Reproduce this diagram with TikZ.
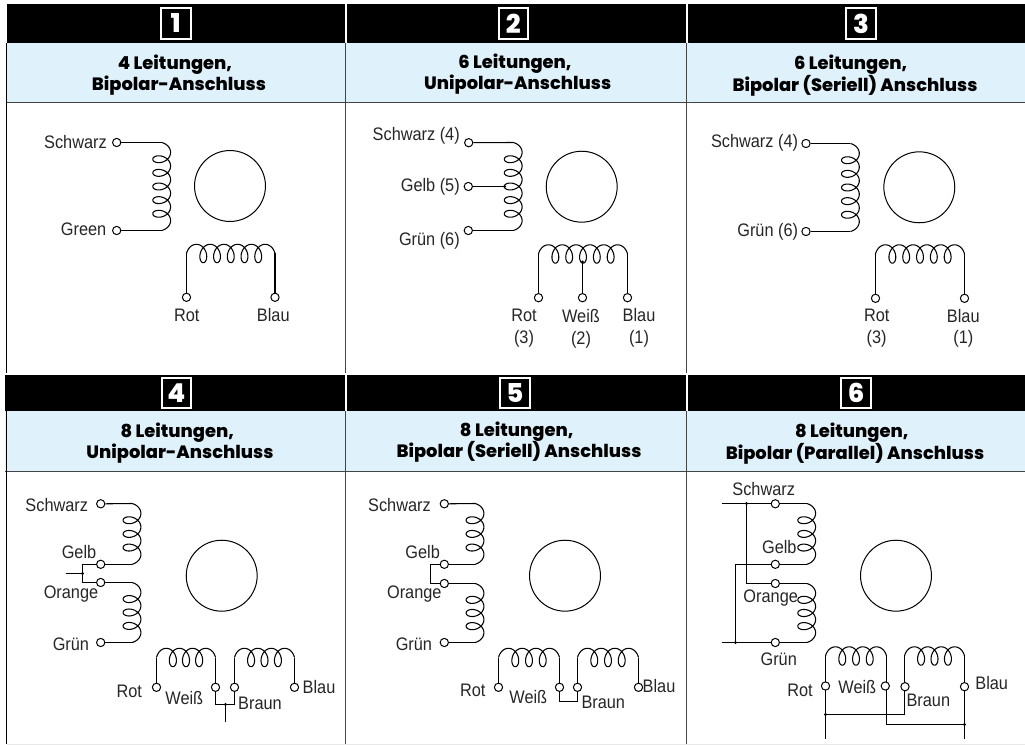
\documentclass[tikz,border=0pt]{standalone}
\usepackage{fontspec}
\setmainfont{Liberation Sans}
\newfontfamily\headfont[UprightFont=* ExtraBold,BoldFont=* ExtraBold]{Poppins}
\definecolor{headblue}{HTML}{DFF2FB}
\definecolor{rulegrey}{HTML}{444444}
\newcommand{\coilV}[5]{% name, xc, y0, L, n : axis down, bulge right
  \pgfmathsetmacro{\cp}{(#4-13)/(#5+.5)}
  \draw[wire] plot[domain=-90:{360*#5+90},samples={36*#5+10},smooth,variable=\t]
    ({#2+8.9*cos(\t)},{#3+(\t+90)/360*\cp+6.5*(sin(\t)+1)});
  \coordinate (#1a) at (#2,#3);
  \coordinate (#1b) at (#2,#3+#4);
}
\newcommand{\coilH}[5]{% name, x0, yc, L, n : axis right, bulge up
  \pgfmathsetmacro{\cp}{(#4-13)/(#5+.5)}
  \draw[wire] plot[domain=-90:{360*#5+90},samples={36*#5+10},smooth,variable=\t]
    ({#2+(\t+90)/360*\cp+6.5*(sin(\t)+1)},{#3-9.2*cos(\t)});
  \coordinate (#1a) at (#2,#3);
  \coordinate (#1b) at (#2+#4,#3);
}
\newcommand{\panelhead}[8]{% left, right, barTop, barBottom, ruleY, digit, boxcx
  \fill[black] (#1,#3) rectangle (#2,#4);
  \fill[headblue] (#1,#4) rectangle (#2,#5);
  \draw[rulegrey,line width=.75pt] (#1,#5) -- (#2,#5);
  \node[numbox] (#8) at (#7,{(#3+#4)/2}) {#6};
}
\tikzset{
  wire/.style={line width=.8pt,black},
  term/.style={circle,draw=black,fill=white,line width=.75pt,minimum size=6.2pt,inner sep=0pt},
  lab/.style={font=\fontsize{13.6}{15}\selectfont,inner sep=0pt,xscale=.9,transform shape,text=black!85},
  labr/.style={lab,anchor=east},
  head/.style={font=\headfont\fontsize{13.4}{15}\selectfont,inner sep=0pt,text=black,yshift=-1.2pt},
  numbox/.style={draw=white,line width=1.5pt,minimum width=22.2pt,minimum height=22.8pt,inner sep=0pt,
     text=white,font=\headfont\fontsize{19.5}{20}\selectfont},
  rotor/.style={circle,draw=black,line width=.75pt,minimum size=53.2pt,inner sep=0pt},
  dotj/.style={circle,fill=black,minimum size=2.6pt,inner sep=0pt},
  vline/.style={draw=rulegrey,line width=1pt},
  lline/.style={draw=black,line width=1pt},
}
\begin{document}
\begin{tikzpicture}[x=.75pt,y=-.75pt]
\useasboundingbox (0,0) rectangle (1025,745);
\fill[white] (0,0) rectangle (1025,745);
% ---------- frame ----------
\fill[black!9] (7,743.7) rectangle (1025,745);
\panelhead{6.5}{345}{4}{43}{103}{1}{175.7}{n1}
\panelhead{347.3}{686}{4}{43}{103}{2}{513.3}{n2}
\panelhead{688.3}{1025}{4}{43}{103}{3}{861}{n3}
\panelhead{5}{345}{375}{411}{471}{4}{176.3}{n4}
\panelhead{347.3}{686}{375}{411}{471}{5}{515}{n5}
\panelhead{688.3}{1025}{375}{411}{471}{6}{856}{n6}
\fill[headblue] (345,43) rectangle (348,103) (686,43) rectangle (689,103)
                (345,411) rectangle (348,471) (686,411) rectangle (689,471);
\draw[rulegrey,line width=.75pt] (345,103) -- (348,103) (686,103) -- (689,103)
                (345,471) -- (348,471) (686,471) -- (689,471);
\draw[lline] (6.5,43) -- (6.5,373);
\draw[lline] (6.5,411) -- (6.5,743.7);
\draw[vline] (345.8,43) -- (345.8,372.7) (345.8,411) -- (345.8,743.7);
\draw[vline] (686.8,43) -- (686.8,372.7) (686.8,411) -- (686.8,743.7);
% ---------- titles ----------
\node[head] (t1a) at (175,63.3) {4 Leitungen,};
\node[head] (t1b) at (179,84) {Bipolar-Anschluss};
\node[head] (t2a) at (515,62.3) {6 Leitungen,};
\node[head] (t2b) at (517.7,83.3) {Unipolar-Anschluss};
\node[head] (t3a) at (850.7,63.3) {6 Leitungen,};
\node[head] (t3b) at (855,84) {Bipolar (Seriell) Anschluss};
\node[head] (t4a) at (177.3,431) {8 Leitungen,};
\node[head] (t4b) at (180,452.3) {Unipolar-Anschluss};
\node[head] (t5a) at (516.7,430) {8 Leitungen,};
\node[head] (t5b) at (519,450.7) {Bipolar (Seriell) Anschluss};
\node[head] (t6a) at (851.7,431) {8 Leitungen,};
\node[head] (t6b) at (855,452.3) {Bipolar (Parallel) Anschluss};
% ---------- panel 1 ----------
\coilV{a}{161.7}{142.5}{88}{5}
\coilH{b}{186.5}{253.5}{88.5}{5}
\node[rotor] (r1) at (230,186) {};
\node[term] (a1) at (116.7,142.5) {};
\node[term] (a2) at (116.7,230.5) {};
\node[term] (a3) at (186.5,297.3) {};
\node[term] (a4) at (275,297.3) {};
\draw[wire] (a1.east) -- (aa);
\draw[wire] (a2.east) -- (ab);
\draw[wire] (a3.north) -- (ba);
\draw[wire] (a4.north) -- (bb);
\node[labr] (l11) at (107,142) {Schwarz};
\node[labr] (l12) at (106.5,229.5) {Green};
\node[lab] (l13) at (186.7,315) {Rot};
\node[lab] (l14) at (273.3,315) {Blau};
% ---------- panel 2 ----------
\coilV{c}{513.2}{142.5}{88}{5}
\coilH{d}{538.5}{254}{89}{5}
\node[rotor] (r2) at (581.7,186.7) {};
\node[term] (c1) at (468.7,142.7) {};
\node[term] (c2) at (468.3,186.5) {};
\node[term] (c3) at (468.3,230.5) {};
\node[term] (c4) at (538.5,297.7) {};
\node[term] (c5) at (582.5,297.7) {};
\node[term] (c6) at (627.5,297.7) {};
\coordinate[] (cj) at (504.5,186.5);
\coordinate[] (dj) at (582.5,262);
\draw[wire] (c1.east) -- (ca);
\draw[wire] (c2.east) -- (cj);
\draw[wire] (c3.east) -- (cb);
\draw[wire] (c4.north) -- (da);
\draw[wire] (c5.north) -- (dj);
\draw[wire] (c6.north) -- (db);
\node[dotj] (cjd) at (cj) {};
\node[dotj] (djd) at (dj) {};
\node[labr] (l21) at (460,136) {Schwarz (4)};
\node[labr] (l22) at (460,187) {Gelb (5)};
\node[labr] (l23) at (460,240.7) {Grün (6)};
\node[lab] (l24) at (524,315) {Rot};
\node[lab] (l25) at (524,339) {(3)};
\node[lab] (l26) at (581,315.7) {Weiß};
\node[lab] (l27) at (581,340) {(2)};
\node[lab] (l28) at (639,315) {Blau};
\node[lab] (l29) at (639,339) {(1)};
% ---------- panel 3 ----------
\coilV{e}{850.4}{143.5}{88}{5}
\coilH{f}{875.5}{254}{89}{5}
\node[rotor] (r3) at (919.3,187.3) {};
\node[term] (e1) at (806,143.5) {};
\node[term] (e2) at (806,231.5) {};
\node[term] (e3) at (875.5,298.3) {};
\node[term] (e4) at (964.5,298.3) {};
\draw[wire] (e1.east) -- (ea);
\draw[wire] (e2.east) -- (eb);
\draw[wire] (e3.north) -- (fa);
\draw[wire] (e4.north) -- (fb);
\node[labr] (l31) at (798.3,143) {Schwarz (4)};
\node[labr] (l32) at (798.3,232) {Grün (6)};
\node[lab] (l33) at (876.7,315.7) {Rot};
\node[lab] (l34) at (876.7,339) {(3)};
\node[lab] (l35) at (963.3,315.7) {Blau};
\node[lab] (l36) at (963.3,339) {(1)};
% ---------- panel 4 ----------
\coilV{g}{132}{503.5}{60.8}{3}
\coilV{h}{132}{582.5}{60}{3}
\coilH{i}{156.5}{657.5}{59}{3}
\coilH{k}{234.5}{657.5}{60}{3}
\node[rotor] (r4) at (221.7,575.7) {};
\node[term] (g1) at (100.7,503.8) {};
\node[term] (g2) at (100.7,564.3) {};
\node[term] (g3) at (100.7,582.5) {};
\node[term] (g4) at (100.7,642.5) {};
\node[term] (g5) at (156.5,687.3) {};
\node[term] (g6) at (215.5,687.3) {};
\node[term] (g7) at (234.5,687.3) {};
\node[term] (g8) at (294.5,687.3) {};
\coordinate (g2c) at (82.5,564.3);
\coordinate (g3c) at (82.5,582.5);
\coordinate (gj) at (82.5,573.5);
\coordinate (gs) at (65.7,573.5);
\coordinate (g6c) at (215.5,704.5);
\coordinate (g7c) at (234.5,704.5);
\coordinate (gk) at (225.5,704.5);
\coordinate (gt) at (225.5,721.7);
\draw[wire] (g1.east) -- (ga);
\draw[wire] (g2.east) -- (gb);
\draw[wire] (g3.east) -- (ha);
\draw[wire] (g4.east) -- (hb);
\draw[wire] (g5.north) -- (ia);
\draw[wire] (g6.north) -- (ib);
\draw[wire] (g7.north) -- (ka);
\draw[wire] (g8.north) -- (kb);
\draw[wire] (g2.west) -- (g2c) -- (g3c) -- (g3.west);
\draw[wire] (gs) -- (gj);
\node[dotj] (gjd) at (gj) {};
\draw[wire] (g6.south) -- (g6c) -- (g7c) -- (g7.south);
\draw[wire] (gk) -- (gt);
\node[dotj] (gkd) at (gk) {};
\node[labr] (l41) at (88.3,505) {Schwarz};
\node[lab] (l42) at (79,552.3) {Gelb};
\node[lab] (l43) at (71,594) {Orange};
\node[labr] (l44) at (89.3,644.3) {Grün};
\node[lab] (l45) at (129.3,691) {Rot};
\node[lab] (l46) at (184.3,697.7) {Weiß};
\node[lab] (l47) at (260,703.3) {Braun};
\node[lab] (l48) at (319,686.7) {Blau};
% ---------- panel 5 ----------
\coilV{m}{475}{503.5}{60.8}{3}
\coilV{n}{475}{583.5}{59}{3}
\coilH{o}{498.5}{657.5}{61}{3}
\coilH{p}{577.5}{657.5}{61}{3}
\node[rotor] (r5) at (565,575.7) {};
\node[term] (m1) at (444.3,503.8) {};
\node[term] (m2) at (444.3,564.3) {};
\node[term] (m3) at (444.3,583.5) {};
\node[term] (m4) at (444.3,642.5) {};
\node[term] (m5) at (498.5,687.3) {};
\node[term] (m6) at (559.5,687.3) {};
\node[term] (m7) at (577.5,687.3) {};
\node[term] (m8) at (638.5,687.3) {};
\coordinate (m2c) at (430.5,564.3);
\coordinate (m3c) at (430.5,583.5);
\coordinate (m6c) at (559.5,701.5);
\coordinate (m7c) at (577.5,701.5);
\draw[wire] (m1.east) -- (ma);
\draw[wire] (m2.east) -- (mb);
\draw[wire] (m3.east) -- (na);
\draw[wire] (m4.east) -- (nb);
\draw[wire] (m5.north) -- (oa);
\draw[wire] (m6.north) -- (ob);
\draw[wire] (m7.north) -- (pa);
\draw[wire] (m8.north) -- (pb);
\draw[wire] (m2.west) -- (m2c) -- (m3c) -- (m3.west);
\draw[wire] (m6.south) -- (m6c) -- (m7c) -- (m7.south);
\node[labr] (l51) at (431,505) {Schwarz};
\node[lab] (l52) at (422.7,551.7) {Gelb};
\node[lab] (l53) at (414.3,594) {Orange};
\node[labr] (l54) at (432.3,644.3) {Grün};
\node[lab] (l55) at (472.7,690.7) {Rot};
\node[lab] (l56) at (528.3,697.3) {Weiß};
\node[lab] (l57) at (603.3,702.7) {Braun};
\node[lab] (l58) at (659,686) {Blau};
% ---------- panel 6 ----------
\coilV{q}{806.7}{503.5}{60.8}{3}
\coilV{s}{806.7}{583.5}{59}{3}
\coilH{u}{825.5}{656}{61}{3}
\coilH{v}{904.5}{656}{60}{3}
\node[rotor] (r6) at (896,575.7) {};
\coordinate (qs) at (722.3,503.5);
\coordinate (qj) at (746.5,503.5);
\coordinate (qo) at (746.5,583.5);
\coordinate (qg) at (722.3,642.5);
\coordinate (qk) at (735.5,642.5);
\coordinate (qy) at (735.5,564.3);
\coordinate (rb) at (825.5,739);
\coordinate (rj) at (825.5,714.5);
\coordinate (br) at (904.5,714.5);
\coordinate (wc) at (886.5,724.5);
\coordinate (bj) at (964.5,724.5);
\coordinate (be) at (964.5,739);
\draw[wire] (qs) -- (qa);
\draw[wire] (qj) -- (qo) -- (sa);
\draw[wire] (qg) -- (sb);
\draw[wire] (qk) -- (qy) -- (qb);
\draw[wire] (ua) -- (rb);
\draw[wire] (rj) -- (br) -- (va);
\draw[wire] (ub) -- (wc) -- (bj);
\draw[wire] (vb) -- (be);
\node[dotj] (qjd) at (qj) {};
\node[dotj] (qkd) at (qk) {};
\node[dotj] (rjd) at (rj) {};
\node[dotj] (bjd) at (bj) {};
\node[term] (q1) at (775.3,503.8) {};
\node[term] (q2) at (775.3,564.3) {};
\node[term] (q3) at (775.3,583.5) {};
\node[term] (q4) at (775.3,642.5) {};
\node[term] (q5) at (825.5,686) {};
\node[term] (q6) at (885.3,686) {};
\node[term] (q7) at (905,686.7) {};
\node[term] (q8) at (964.5,686.7) {};
\node[lab] (l61) at (763.7,489) {Schwarz};
\node[lab] (l62) at (779.3,547.3) {Gelb};
\node[lab] (l63) at (770.7,598.3) {Orange};
\node[lab] (l64) at (778.7,659) {Grün};
\node[lab] (l65) at (800,690) {Rot};
\node[lab] (l66) at (857.3,686.7) {Weiß};
\node[lab] (l67) at (928.3,700.7) {Braun};
\node[lab] (l68) at (991.7,683.3) {Blau};
\end{tikzpicture}
\end{document}
